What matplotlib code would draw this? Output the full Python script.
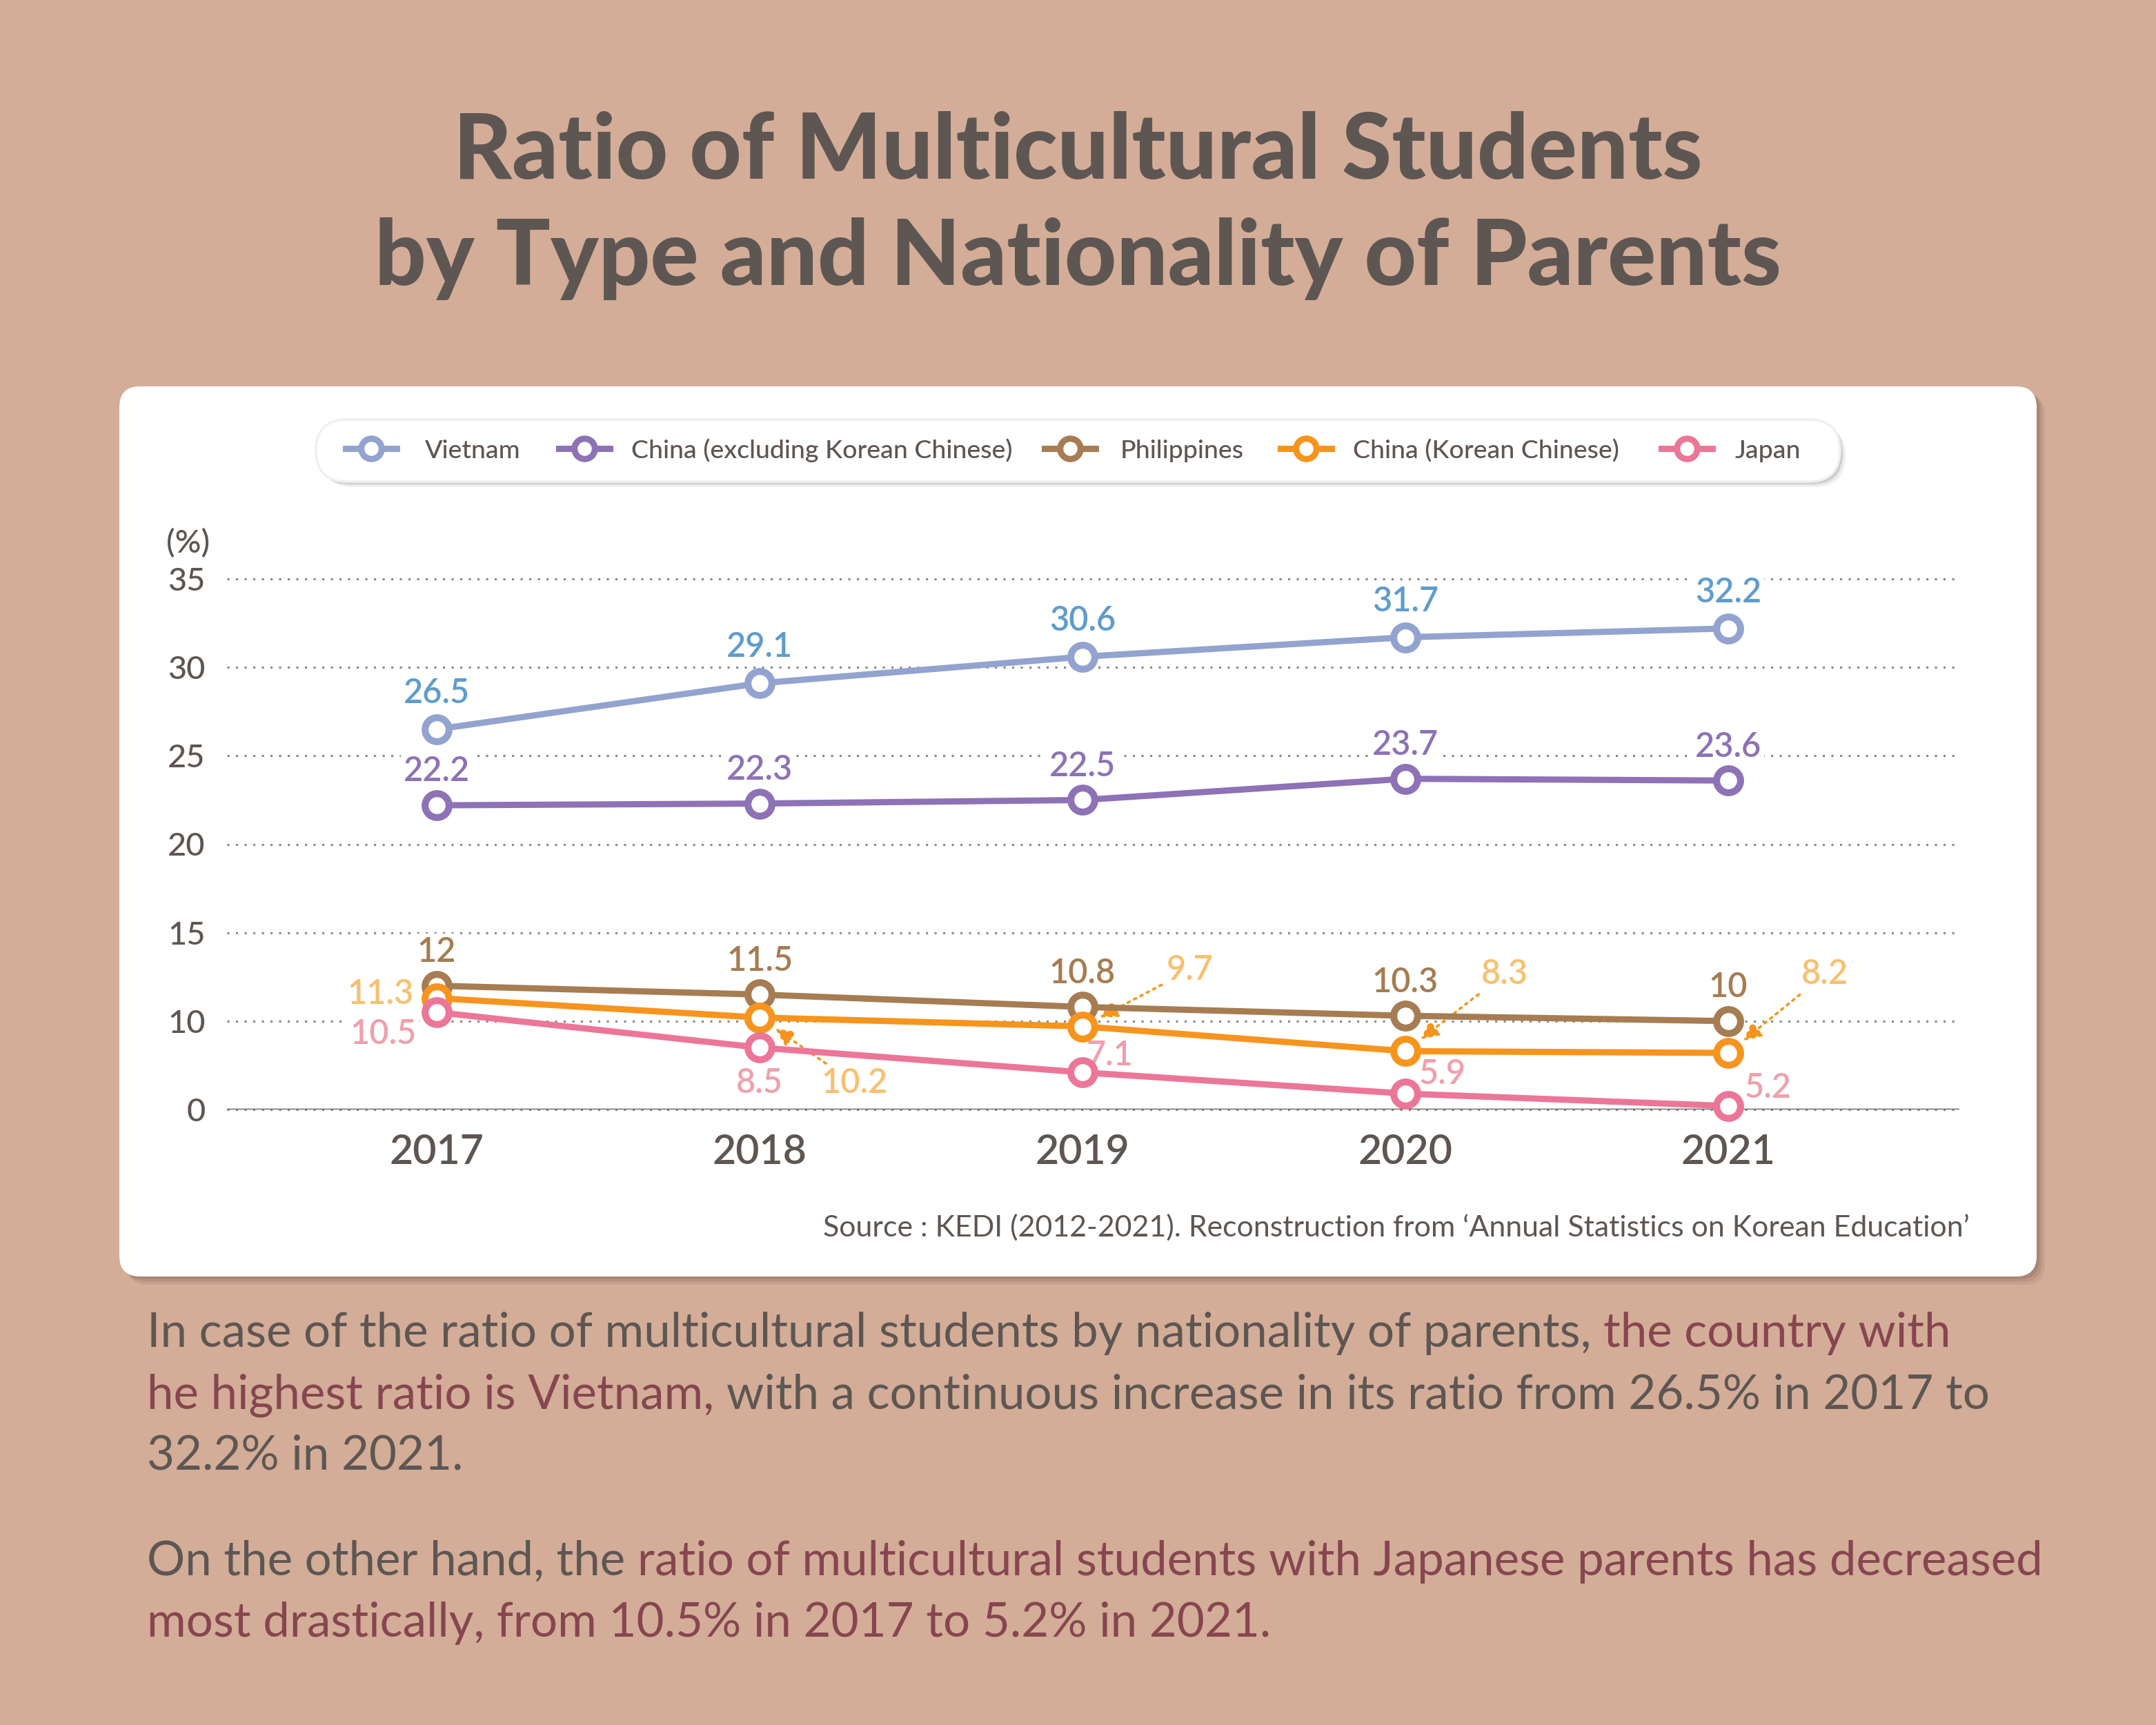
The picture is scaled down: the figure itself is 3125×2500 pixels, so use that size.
import matplotlib
matplotlib.use("Agg")
import matplotlib.pyplot as plt
from matplotlib.patches import FancyBboxPatch
from matplotlib.lines import Line2D
from matplotlib.transforms import IdentityTransform

# ---------------- data ----------------
years = [2017, 2018, 2019, 2020, 2021]
vietnam = [26.5, 29.1, 30.6, 31.7, 32.2]
china_excl = [22.2, 22.3, 22.5, 23.7, 23.6]
philippines = [12, 11.5, 10.8, 10.3, 10]
china_korean = [11.3, 10.2, 9.7, 8.3, 8.2]
japan = [10.5, 8.5, 7.1, 5.9, 5.2]
series_names = ["Vietnam", "China (excluding Korean Chinese)", "Philippines",
                "China (Korean Chinese)", "Japan"]
# the original chart uses a broken axis: its bottom line (labelled 0) sits at 5
y_ticks = [5, 10, 15, 20, 25, 30, 35]
y_tick_labels = ["0", "10", "15", "20", "25", "30", "35"]

title_lines = ["Ratio of Multicultural Students", "by Type and Nationality of Parents"]
source_text = "Source : KEDI (2012-2021). Reconstruction from \u2018Annual Statistics on Korean Education\u2019"

# ---------------- style ----------------
W, H, DPI = 3125, 2500, 250
BG = "#d3ad98"
GREY = "#5e5652"
ROSE = "#86464f"
FONT = ["Lato", "DejaVu Sans"]
line_colors = ["#93a3cf", "#8d72b6", "#a67c52", "#f7941d", "#ec7698"]
label_colors = ["#5f9ccc", "#8d72b6", "#a67c52", "#f8c070", "#f0a0ac"]

fig = plt.figure(figsize=(W / DPI, H / DPI), dpi=DPI)
fig.patch.set_facecolor(BG)
renderer = fig.canvas.get_renderer()
PX = IdentityTransform()


def rounded(x0, y0, x1, y1, r, **kw):
    """rounded rectangle given in image pixel coords (top-left origin)"""
    p = FancyBboxPatch((x0 + r, H - y1 + r), (x1 - x0) - 2 * r, (y1 - y0) - 2 * r,
                       boxstyle=f"round,pad={r}", transform=PX, **kw)
    fig.add_artist(p)
    return p


def text_width(s, size, weight="normal"):
    t = fig.text(0, 0, s, fontsize=size, family=FONT, weight=weight)
    w = t.get_window_extent(renderer).width
    t.remove()
    return w


def fit(s, target, weight="normal", base=20.0):
    return base * target / text_width(s, base, weight)


# ---------------- card & shadow ----------------
for k, a in [(12, 0.10), (8, 0.12), (4, 0.15)]:
    rounded(173 + k, 560 + k, 2952 + k, 1850 + k, 30, fc="#5a3d30", ec="none",
            alpha=a, zorder=-6)
rounded(173, 560, 2952, 1850, 30, fc="white", ec="none", zorder=-5)

# legend pill with shadow
for k, a in [(8, 0.10), (5, 0.14), (3, 0.18)]:
    rounded(458 + k, 608 + k, 2667 + k, 698 + k, 45, fc="#707070", ec="none",
            alpha=a, zorder=-4)
rounded(458, 608, 2667, 698, 45, fc="white", ec="#f0f0f0", lw=1, zorder=-3)

# ---------------- title ----------------
tsize = fit(title_lines[1], 2041, weight="black")
fig.text(0.5, 1 - 259 / H, title_lines[0], ha="center", va="baseline",
         fontsize=tsize, weight="black", color=GREY, family=FONT)
fig.text(0.5, 1 - 413 / H, title_lines[1], ha="center", va="baseline",
         fontsize=tsize, weight="black", color=GREY, family=FONT)

# ---------------- axes ----------------
ax = fig.add_axes([329 / W, 1 - 1608 / H, (2840 - 329) / W, (1608 - 839) / H])
ax.set_facecolor("none")
ax.set_xlim(2016.35, 2021.716)
ax.set_ylim(5, 35)
for s in ax.spines.values():
    s.set_visible(False)
ax.set_yticks(y_ticks, y_tick_labels)
ax.set_xticks(years, [str(y) for y in years])
ax.tick_params(axis="y", length=0, pad=9, labelsize=13.5, labelcolor=GREY)
ax.tick_params(axis="x", length=0, pad=10, labelsize=17, labelcolor=GREY)
for lab in ax.get_yticklabels():
    lab.set_family(FONT)
    lab.set_weight("medium")
for lab in ax.get_xticklabels():
    lab.set_family(FONT)
    lab.set_weight("semibold")
ax.yaxis.grid(True, color="#8a8a8a", lw=0.9, linestyle=(0, (1, 3)))
for gl in ax.get_ygridlines():
    gl.set_clip_on(False)
ax.set_axisbelow(True)
ax.axhline(y_ticks[0], color=GREY, lw=1.0, zorder=1)

fig.text(273 / W, 1 - 787 / H, "(%)", ha="center", va="center", fontsize=13.5,
         color=GREY, family=FONT, weight="medium")

all_series = [vietnam, china_excl, philippines, china_korean, japan]
for i, vals in enumerate(all_series):
    ax.plot(years, vals, color=line_colors[i], lw=2.6, marker="o", ms=10,
            mfc="white", mec=line_colors[i], mew=2.9, zorder=3 + 0.1 * i,
            clip_on=False, label=series_names[i])

# label offsets in points
offsets = [
    [(0, 15)] * 5,
    [(0, 14)] * 5,
    [(0, 14)] * 5,
    [(-23.5, 1.7), (39.6, -27.5), (44.8, 23.5), (41.3, 32.1), (40.2, 32.7)],
    [(-22.4, -9.2), (0, -14.9), (11.5, 6.9), (15.5, 8.0), (16.6, 7.5)],
]
arrows = [set(), set(), set(), {1, 2, 3, 4}, set()]
for i, vals in enumerate(all_series):
    for j, (x, v) in enumerate(zip(years, vals)):
        kw = {}
        if j in arrows[i]:
            kw["arrowprops"] = dict(arrowstyle="-|>,head_length=0.45,head_width=0.22",
                                    linestyle=(0, (1, 2)), color=line_colors[i],
                                    lw=1.0, shrinkA=1, shrinkB=8)
        ax.annotate(f"{v:g}", xy=(x, v), xytext=offsets[i][j], textcoords="offset points",
                    ha="center", va="center", fontsize=14, color=label_colors[i],
                    family=FONT, weight="semibold", zorder=2.5, annotation_clip=False,
                    bbox=dict(boxstyle="square,pad=0.08", fc="white", ec="none"), **kw)

# ---------------- legend (inside the pill) ----------------
handle_cx = [538, 847, 1551, 1893, 2445]
text_x0 = [616, 915, 1624, 1961, 2515]
leg_y = H - 650
for c, hx, tx, name in zip(line_colors, handle_cx, text_x0, series_names):
    fig.add_artist(Line2D([hx - 37, hx + 37], [leg_y, leg_y], transform=PX, color=c,
                          lw=2.6, zorder=5))
    fig.add_artist(Line2D([hx], [leg_y], transform=PX, color=c, lw=0, marker="o",
                          ms=8.5, mfc="white", mec=c, mew=2.6, zorder=6))
    fig.text(tx / W, leg_y / H, name, ha="left", va="center_baseline", fontsize=10.8,
             color=GREY, family=FONT, weight="medium")

# ---------------- source ----------------
ssize = fit(source_text, 1665)
fig.text(2855 / W, 1 - 1792 / H, source_text, ha="right", va="baseline",
         fontsize=ssize, color=GREY, family=FONT)

# ---------------- paragraphs ----------------
para_lines = [
    (1952, [("In case of the ratio of multicultural students by nationality of parents,", GREY),
            ("the country with", ROSE)]),
    (2042, [("he highest ratio is Vietnam,", ROSE),
            ("with a continuous increase in its ratio from 26.5% in 2017 to", GREY)]),
    (2130, [("32.2% in 2021.", GREY)]),
    (2283, [("On the other hand, the", GREY),
            ("ratio of multicultural students with Japanese parents has decreased", ROSE)]),
    (2372, [("most drastically, from 10.5% in 2017 to 5.2% in 2021.", ROSE)]),
]
base = 20.0
space_w = text_width("a a", base) - text_width("aa", base)
ref_w = text_width(para_lines[1][1][0][0], base) + space_w + text_width(para_lines[1][1][1][0], base)
psize = base * 2671 / ref_w
space_w = space_w * psize / base
for yimg, segs in para_lines:
    x = 213
    for k, (s, c) in enumerate(segs):
        t = fig.text(x / W, 1 - yimg / H, s, ha="left", va="baseline", fontsize=psize,
                     color=c, family=FONT)
        x += t.get_window_extent(renderer).width + space_w

fig.savefig("out.png", dpi=DPI, facecolor=BG)
